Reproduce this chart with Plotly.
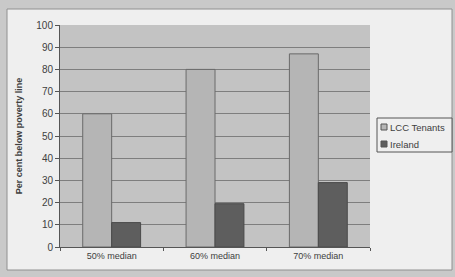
import plotly.graph_objects as go

categories = ["50% median", "60% median", "70% median"]
series_names = ["LCC Tenants", "Ireland"]
lcc_tenants = [60, 80, 87]
ireland = [11, 19.5, 29]
y_ticks = list(range(0, 101, 10))
colors = ["#b5b5b5", "#5e5e5e"]

fig = go.Figure()
fig.add_bar(name=series_names[0], x=categories, y=lcc_tenants,
            marker=dict(color=colors[0], line=dict(color="#6a6a6a", width=1)))
fig.add_bar(name=series_names[1], x=categories, y=ireland,
            marker=dict(color=colors[1], line=dict(color="#4a4a4a", width=1)))


def px(x):
    return (x - 60) / 310


def py(y):
    return (247 - y) / 222


shapes = [
    dict(type="rect", xref="paper", yref="paper",
         x0=px(7), x1=px(452), y0=py(270), y1=py(9),
         fillcolor="#efefef", line=dict(color="#909090", width=1), layer="below"),
    dict(type="rect", xref="paper", yref="paper", x0=0, x1=1, y0=0, y1=1,
         fillcolor="#c3c3c3", line=dict(width=0), layer="below"),
    dict(type="rect", xref="paper", yref="paper",
         x0=px(377), x1=px(452), y0=py(152), y1=py(118),
         fillcolor="#efefef", line=dict(color="#555555", width=1)),
]
annotations = []
for i, (name, c) in enumerate(zip(series_names, colors)):
    yc = 127 + i * 17
    shapes.append(dict(type="rect", xref="paper", yref="paper",
                       x0=px(381), x1=px(387), y0=py(yc + 3), y1=py(yc - 3),
                       fillcolor=c, line=dict(color="#555555", width=1)))
    annotations.append(dict(text=name, xref="paper", yref="paper",
                            x=px(388), y=py(yc), xanchor="left", yanchor="middle",
                            showarrow=False,
                            font=dict(size=9.5, color="#404040")))

fig.update_layout(
    width=455, height=277,
    margin=dict(l=60, r=85, t=25, b=30, autoexpand=False),
    paper_bgcolor="#c9c9c9",
    plot_bgcolor="#c3c3c3",
    barmode="group", bargap=0.44, bargroupgap=0,
    font=dict(family="Liberation Sans, Arial", size=9, color="#404040"),
    showlegend=False,
    shapes=shapes,
    annotations=annotations,
)
fig.update_xaxes(showline=True, linecolor="#555555", linewidth=1,
                 ticks="outside", ticklen=3, tickcolor="#555555",
                 tickson="boundaries", tickfont=dict(size=9, color="#404040"))
fig.update_yaxes(range=[0, 100], tickvals=y_ticks, showline=True,
                 linecolor="#555555", linewidth=1,
                 ticks="outside", ticklen=4, tickcolor="#555555",
                 gridcolor="#7e7e7e", gridwidth=1, zeroline=False,
                 tickfont=dict(size=10, color="#404040"),
                 title=dict(text="<b>Per cent below poverty line</b>",
                            font=dict(size=9, color="#404040"), standoff=12))

fig.write_html("out.html", config={"displayModeBar": False},
               post_script="document.body.style.margin='0';document.body.style.overflow='hidden';")
